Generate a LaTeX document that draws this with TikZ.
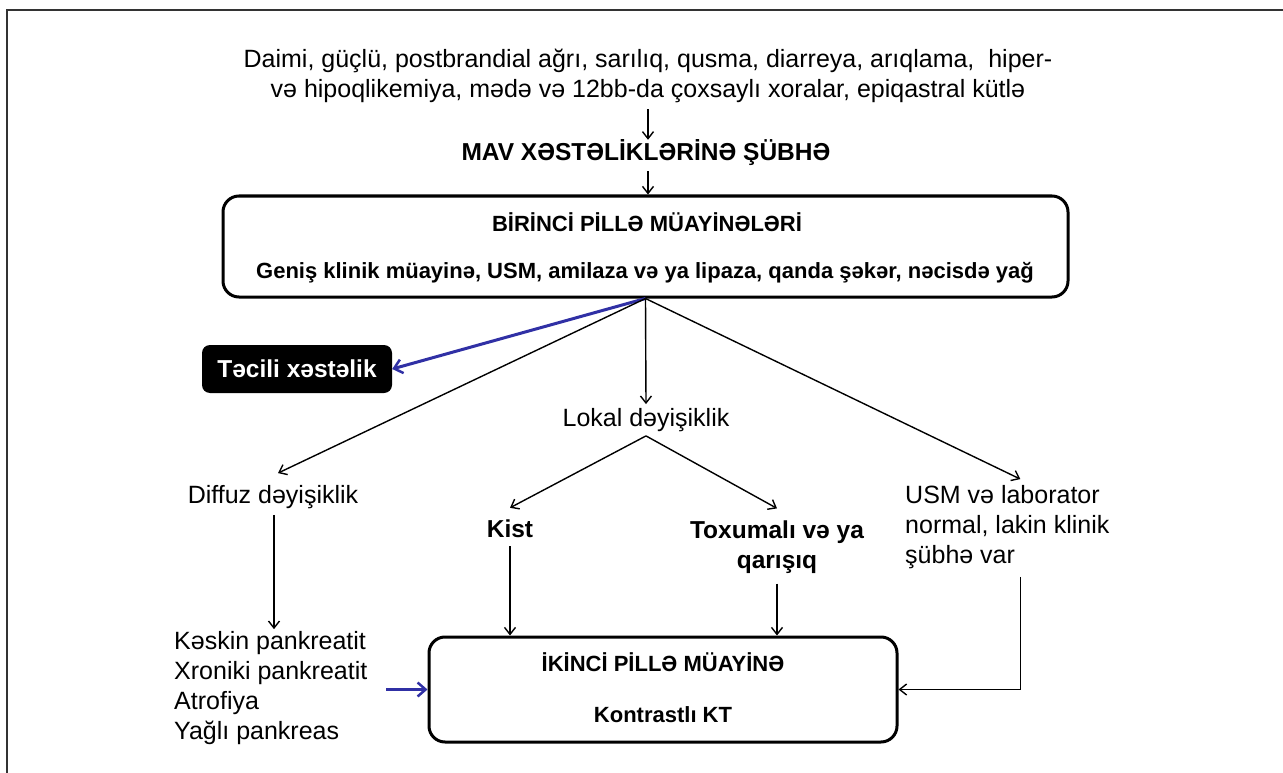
\documentclass[tikz,border=0pt]{standalone}
\usepackage{fontspec}
\setmainfont{Liberation Sans}
\usetikzlibrary{arrows.meta}
\definecolor{arrblue}{RGB}{48,48,165}
\tikzset{
  x=1pt,y=-1pt,
  txt/.style={font=\fontsize{25}{30}\selectfont, inner sep=2pt, align=center},
  btxt/.style={font=\fontsize{24.5}{30}\selectfont\bfseries, inner sep=2pt, align=center},
  boxtxt/.style={font=\fontsize{22}{26}\selectfont\bfseries, inner sep=2pt, align=center},
  arr/.style={draw=black, line width=1.4pt, -{Straight Barb[length=7pt,width=11pt,line width=1.4pt]}},
  barr/.style={draw=arrblue, line width=3pt, -{Straight Barb[length=8pt,width=14pt,line width=2.5pt]}},
  stagebox/.style={draw=black, line width=3pt, rounded corners=16pt, inner sep=0pt},
  urgent/.style={fill=black, rounded corners=8pt, text=white, font=\fontsize{24.5}{28}\selectfont\bfseries, inner sep=0pt},
}
\begin{document}
\begin{tikzpicture}
\useasboundingbox (0,0) rectangle (1283,773);
% frame
\draw[line width=2pt, black!80] (7,773) -- (7,10) -- (1283,10);

\node[txt] (sym) at (648,76) {Daimi, güçlü, postbrandial ağrı, sarılıq, qusma, diarreya, arıqlama,\ \ hiper-\\və hipoqlikemiya, mədə və 12bb-da çoxsaylı xoralar, epiqastral kütlə};
\node[btxt] (mav) at (646,153) {MAV XƏSTƏLİKLƏRİNƏ ŞÜBHƏ};

\node[stagebox, minimum width=845pt, minimum height=101pt] (b1) at (645.5,246.5) {};
\node[boxtxt] (b1t) at (647,222) {BİRİNCİ PİLLƏ MÜAYİNƏLƏRİ};
\node[boxtxt] (b1s) at (645,273) {Geniş klinik müayinə, USM, amilaza və ya lipaza, qanda şəkər, nəcisdə yağ};

\node[urgent, minimum width=190pt, minimum height=48pt] (tec) at (297,369) {Təcili xəstəlik};

\node[txt] (lok) at (646,420) {Lokal dəyişiklik};
\node[txt] (dif) at (273,497) {Diffuz dəyişiklik};
\node[txt, align=left, anchor=west] (usm) at (903,527) {USM və laborator\\normal, lakin klinik\\şübhə var};
\node[btxt] (kist) at (510,529) {Kist};
\node[btxt] (tox) at (777,547) {Toxumalı və ya\\qarışıq};
\node[txt, align=left, anchor=west] (lst) at (172,688) {Kəskin pankreatit\\Xroniki pankreatit\\Atrofiya\\Yağlı pankreas};

\node[stagebox, minimum width=468pt, minimum height=105pt] (b2) at (663,689.5) {};
\node[boxtxt] (b2t) at (663,662) {İKİNCİ PİLLƏ MÜAYİNƏ};
\node[boxtxt] (b2s) at (663,715) {Kontrastlı KT};

% connectors
\coordinate (lsta) at (386,689.5);
\draw[arr, shorten <=4pt, shorten >=-2pt] (sym.south) -- (sym.south |- mav.north);
\draw[arr, shorten <=3pt] (sym.south |- mav.south) -- (sym.south |- b1.north);
\draw[barr] (b1.south) -- (tec.east);
\draw[arr] (b1.south) -- ([yshift=2pt]lok.north);
\draw[arr] (b1.south) -- ([xshift=5pt,yshift=10pt]dif.north);
\draw[arr] (b1.south) -- ([xshift=13pt,yshift=4pt]usm.north);
\draw[arr] ([yshift=-2pt]lok.south) -- ([yshift=10pt]kist.north);
\draw[arr] ([yshift=-2pt]lok.south) -- ([yshift=10pt]tox.north);
\draw[arr] ([xshift=1pt,yshift=-4pt]dif.south) -- ([xshift=1pt]dif.south |- lst.north);
\draw[arr] ([yshift=-6pt]kist.south) -- (kist.south |- b2.north);
\draw[arr, line width=1.8pt] ([yshift=-8pt]tox.south) -- (tox.south |- b2.north);
\draw[arr] ([xshift=13pt,yshift=-6pt]usm.south) |- (b2.east);
\draw[barr] (lsta) -- (b2.west);
\end{tikzpicture}
\end{document}
